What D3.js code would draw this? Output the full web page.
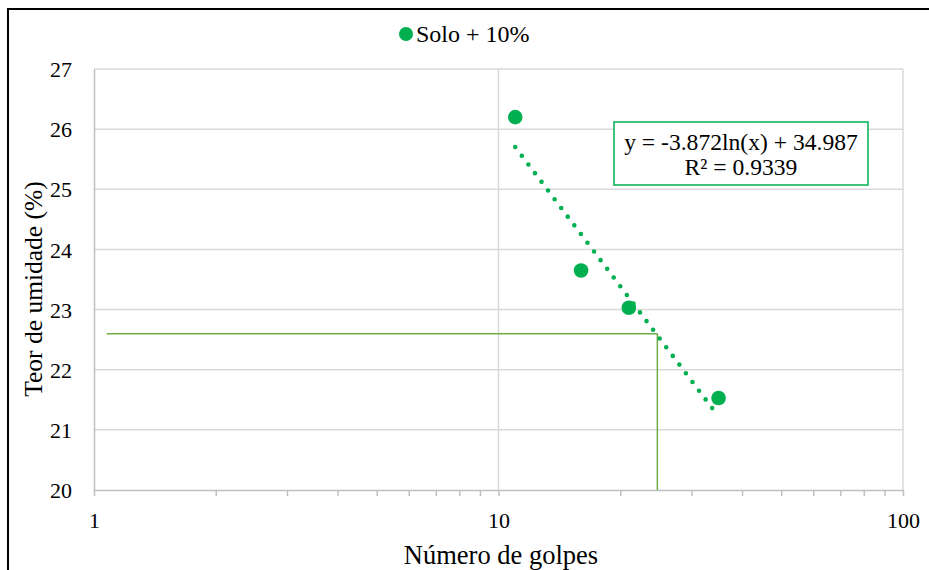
<!DOCTYPE html>
<html>
<head>
<meta charset="utf-8">
<script src="https://cdn.jsdelivr.net/npm/d3@7"></script>
<style>
  html, body { margin: 0; padding: 0; background: #ffffff; }
  svg { display: block; }
  svg text { font-family: 'Liberation Serif', 'Times New Roman', serif !important; }
</style>
</head>
<body>
<svg id="chart" width="929" height="570"></svg>
<script>
// Ensaio de limite de liquidez: número de golpes x teor de umidade
const golpes = [11, 16, 21, 35];
const umidade = [26.2, 23.65, 23.03, 21.53];
const seriesName = "Solo + 10%";

// Linha de tendência logarítmica y = a·ln(x) + b
const trendA = -3.872;
const trendB = 34.987;
const trendR2 = 0.9339;

// Linhas-guia (leitura do teor de umidade)
const guideX = [1.075, 24.7];
const guideY = 22.6;

const yTicks = [20, 21, 22, 23, 24, 25, 26, 27];
const xMajor = [1, 10, 100];
const xMinor = [2, 3, 4, 5, 6, 7, 8, 9, 20, 30, 40, 50, 60, 70, 80, 90];

const green = "#00B050";
const guideGreen = "#70AD47";
const serif = "'Liberation Serif', 'Times New Roman', serif";

const svg = d3.select("#chart");

const x = d3.scaleLog().domain([1, 100]).range([94, 903]);
const y = d3.scaleLinear().domain([20, 27]).range([490, 69]);

// Moldura da área do gráfico
svg.append("line").attr("x1", 8).attr("x2", 929).attr("y1", 9).attr("y2", 9)
  .attr("stroke", "#000").attr("stroke-width", 2);
svg.append("line").attr("x1", 8).attr("x2", 8).attr("y1", 8).attr("y2", 570)
  .attr("stroke", "#000").attr("stroke-width", 2);

// Grade horizontal
svg.append("g").selectAll("line").data(yTicks.filter(d => d > 20)).join("line")
  .attr("x1", x(1)).attr("x2", x(100))
  .attr("y1", d => y(d)).attr("y2", d => y(d))
  .attr("stroke", "#d9d9d9").attr("stroke-width", 1.5);

// Grade vertical
svg.append("g").selectAll("line").data(xMajor.filter(d => d > 1)).join("line")
  .attr("x1", d => x(d)).attr("x2", d => x(d))
  .attr("y1", y(27)).attr("y2", y(20))
  .attr("stroke", "#d9d9d9").attr("stroke-width", 1.5);

// Eixo X (escala logarítmica) com marcas para fora
const xAxis = d3.axisBottom(x)
  .tickValues(xMajor.concat(xMinor))
  .tickSize(6)
  .tickSizeOuter(0)
  .tickFormat(d => xMajor.includes(d) ? d3.format("d")(d) : "");
const gx = svg.append("g").attr("transform", `translate(0,${y(20)})`).call(xAxis)
  .attr("font-family", serif).attr("font-size", 22);
gx.select(".domain").attr("stroke", "#bfbfbf").attr("stroke-width", 1.5);
gx.selectAll(".tick line").attr("stroke", "#bfbfbf").attr("stroke-width", 1.5);
gx.selectAll(".tick text")
  .attr("y", 22).attr("dy", "0.71em")
  .attr("fill", "#000");

// Eixo Y
const yAxis = d3.axisLeft(y).tickValues(yTicks).tickSize(0).tickFormat(d3.format("d"));
const gy = svg.append("g").attr("transform", `translate(${x(1)},0)`).call(yAxis)
  .attr("font-family", serif).attr("font-size", 22);
gy.select(".domain").attr("stroke", "#bfbfbf").attr("stroke-width", 1.5);
gy.selectAll(".tick text")
  .attr("x", -22).attr("dy", "0.35em")
  .attr("fill", "#000");

// Linhas-guia
svg.append("line")
  .attr("x1", x(guideX[0])).attr("x2", x(guideX[1]))
  .attr("y1", y(guideY)).attr("y2", y(guideY))
  .attr("stroke", guideGreen).attr("stroke-width", 1.5);
svg.append("line")
  .attr("x1", x(guideX[1])).attr("x2", x(guideX[1]))
  .attr("y1", y(guideY)).attr("y2", y(20))
  .attr("stroke", guideGreen).attr("stroke-width", 1.5);

// Linha de tendência pontilhada (reta em escala log)
const xMin = d3.min(golpes), xMax = d3.max(golpes);
const trendPts = [xMin, xMax].map(g => [x(g), y(trendA * Math.log(g) + trendB)]);
svg.append("path")
  .attr("d", d3.line()(trendPts))
  .attr("fill", "none")
  .attr("stroke", green)
  .attr("stroke-width", 4.6)
  .attr("stroke-linecap", "round")
  .attr("stroke-dasharray", "0 10.9");

// Pontos
svg.append("g").selectAll("circle").data(golpes.map((g, i) => [g, umidade[i]])).join("circle")
  .attr("cx", d => x(d[0])).attr("cy", d => y(d[1]))
  .attr("r", 7.3).attr("fill", green);

// Legenda
svg.append("circle").attr("cx", 406).attr("cy", 34).attr("r", 7).attr("fill", green);
svg.append("text").attr("x", 416).attr("y", 42)
  .attr("font-family", serif)
  .attr("font-size", 24).attr("fill", "#000").text(seriesName);

// Caixa da equação
svg.append("rect").attr("x", 614).attr("y", 122).attr("width", 254).attr("height", 63)
  .attr("fill", "#fff").attr("stroke", green).attr("stroke-width", 1.5);
const eqText = `y = ${trendA}ln(x) + ${trendB}`;
svg.append("text").attr("x", 741).attr("y", 150).attr("text-anchor", "middle")
  .attr("font-family", serif)
  .attr("font-size", 23.6).attr("fill", "#000").text(eqText);
svg.append("text").attr("x", 741).attr("y", 175).attr("text-anchor", "middle")
  .attr("font-family", serif)
  .attr("font-size", 23.6).attr("fill", "#000").text(`R² = ${trendR2}`);

// Títulos dos eixos
svg.append("text").attr("x", 501).attr("y", 564).attr("text-anchor", "middle")
  .attr("font-family", serif)
  .attr("font-size", 26.5).attr("fill", "#000").text("Número de golpes");
svg.append("text")
  .attr("transform", `translate(42,289) rotate(-90)`)
  .attr("text-anchor", "middle")
  .attr("font-family", serif)
  .attr("font-size", 25.5).attr("fill", "#000").text("Teor de umidade (%)");
</script>
</body>
</html>
